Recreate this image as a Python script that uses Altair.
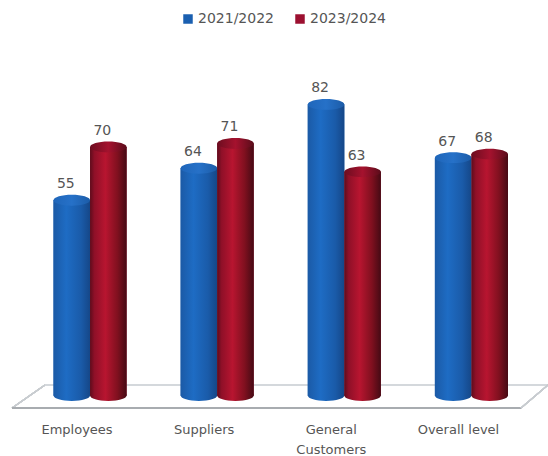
import altair as alt
import pandas as pd

categories = ["Employees", "Suppliers", "General|Customers", "Overall level"]
series_names = ["2021/2022", "2023/2024"]
values_a = [55, 64, 82, 67]
values_b = [70, 71, 63, 68]
flat_colors = ["#1a5fb0", "#9c1030"]

FONT = "DejaVu Sans"
TEXT = "#555555"

rows = []
for cat, a, b in zip(categories, values_a, values_b):
    rows.append({"category": cat, "series": series_names[0], "value": a})
    rows.append({"category": cat, "series": series_names[1], "value": b})
data = pd.DataFrame(rows)


def sideways(stops):
    return alt.Gradient(
        gradient="linear", x1=0, y1=0, x2=1, y2=0,
        stops=[alt.GradientStop(offset=o, color=c) for o, c in stops],
    )


body = {
    series_names[0]: sideways([(0, "#1b5aa6"), (0.35, "#1e6cc4"), (0.75, "#1a5ba9"), (1, "#154788")]),
    series_names[1]: sideways([(0, "#5e0c1c"), (0.12, "#8f1028"), (0.42, "#b81530"), (0.75, "#80101f"), (1, "#450a14")]),
}
cap = {
    series_names[0]: sideways([(0, "#1f66ba"), (0.5, "#2671c8"), (1, "#1c5ca8")]),
    series_names[1]: sideways([(0, "#6d0d20"), (0.5, "#a5122e"), (1, "#5a0c1a")]),
}

# Flattened ellipse used for the cylinder ends
ELLIPSE = "M-1,0 A1,0.3 0 1,1 1,0 A1,0.3 0 1,1 -1,0 Z"
CAP_SIZE = 1332
y_scale = alt.Scale(domain=[0, 100], range=[395.5, 40.5])

x = alt.X(
    "category:N",
    sort=categories,
    scale=alt.Scale(range=[26.5, 535], paddingInner=0.425, paddingOuter=0.2125),
    axis=alt.Axis(
        title=None, domain=False, ticks=False, grid=False, labelAngle=0,
        labelExpr="split(datum.label, '|')", labelPadding=23, labelFont=FONT,
        labelFontSize=13, labelColor=TEXT, labelLineHeight=20, labelBaseline="top",
        labelOffset=-13,
    ),
)
x_offset = alt.XOffset("series:N", sort=series_names, scale=alt.Scale(domain=series_names))
y = alt.Y("value:Q", scale=y_scale, axis=None)
y_base = alt.Y("zero:Q", scale=y_scale, axis=None)
base = alt.Chart(data).encode(x=x, xOffset=x_offset)

# Floor outline drawn behind the columns
floor_edges = [
    (12, 45, 408, 385, "#c8ccd0"),
    (45, 548, 385, 385, "#d4d8dc"),
    (12, 521, 408, 408, "#a8acb0"),
    (521, 548, 408, 385, "#c8ccd0"),
]
floor = [
    alt.Chart(data).mark_rule(color=c, strokeWidth=1.2).encode(
        x=alt.value(x0), x2=alt.value(x1), y=alt.value(y0), y2=alt.value(y1)
    )
    for x0, x1, y0, y1, c in floor_edges
]

# Soft contact shadow to the right of each pair of columns
shadow = (
    base.transform_filter(alt.datum.series == series_names[1])
    .transform_calculate(zero="0")
    .mark_point(filled=True, shape=ELLIPSE, size=CAP_SIZE, fill="#9a9ea2", opacity=0.35, strokeWidth=0, xOffset=6)
    .encode(y=y_base)
)

# Flat bars carry the colour legend; the shaded columns sit on top of them
legend_bars = base.mark_bar().encode(
    y=y,
    color=alt.Color(
        "series:N",
        sort=series_names,
        scale=alt.Scale(domain=series_names, range=flat_colors),
        legend=alt.Legend(
            title=None, orient="none", legendX=181, legendY=12, direction="horizontal",
            symbolType="square", symbolSize=90, symbolStrokeWidth=0, labelFont=FONT,
            labelFontSize=14, labelColor=TEXT, columnPadding=19, labelOffset=3,
        ),
    ),
)

columns = []
for name in series_names:
    part = base.transform_filter(alt.datum.series == name)
    columns.append(
        part.transform_calculate(zero="0")
        .mark_point(filled=True, shape=ELLIPSE, size=CAP_SIZE, fill=body[name], opacity=1, strokeWidth=0)
        .encode(y=y_base)
    )
    columns.append(part.mark_bar(fill=body[name]).encode(y=y))
    columns.append(
        part.mark_point(filled=True, shape=ELLIPSE, size=CAP_SIZE, fill=cap[name], opacity=1, strokeWidth=0)
        .encode(y=y)
    )

value_labels = base.mark_text(
    font=FONT, fontSize=14, color=TEXT, dx=-6, dy=-16, baseline="middle"
).encode(y=y, text="value:Q")

chart = (
    alt.layer(*floor, shadow, legend_bars, *columns, value_labels)
    .properties(
        width=548,
        height=400,
        padding={"left": 0, "top": 0, "right": 0, "bottom": 56},
        autosize=alt.AutoSizeParams(type="none"),
        background="white",
    )
    .configure_view(stroke=None)
)

chart.save("out.html", embed_options={"renderer": "svg", "actions": False})
